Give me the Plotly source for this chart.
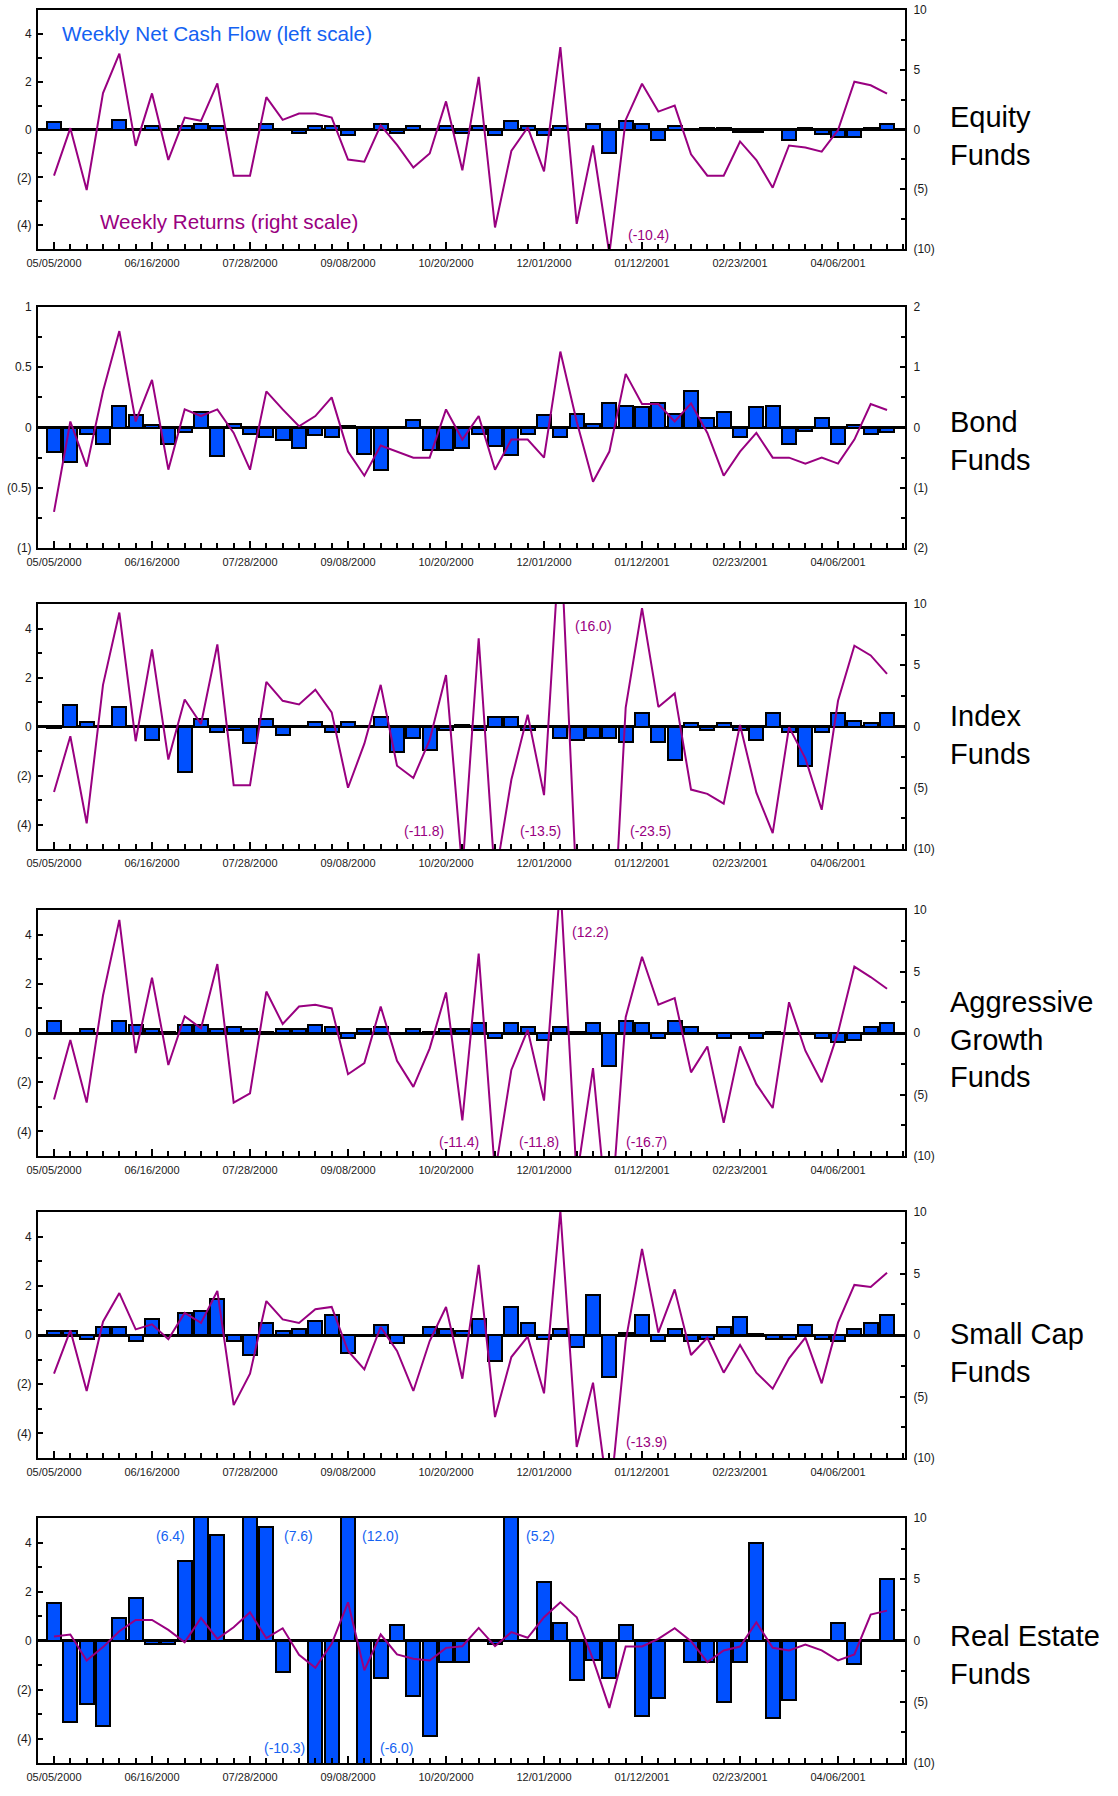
import plotly.graph_objects as go
import pandas as pd

# ---------------- data ----------------
weeks = pd.date_range("2000-05-05", periods=52, freq="7D")

equity_flow = [0.30, 0.0, 0.0, 0.02, 0.40, 0.03, 0.14, 0.02, 0.14, 0.24, 0.14, 0.0, 0.03, 0.24, 0.02, -0.15,
               0.14, 0.14, -0.25, 0.02, 0.24, -0.15, 0.14, 0.02, 0.14, -0.15, 0.14, -0.25, 0.34, 0.14, -0.25, 0.14,
               0.0, 0.24, -1.0, 0.34, 0.24, -0.42, 0.14, 0.0, 0.05, 0.05, -0.1, -0.1, 0.0, -0.42, 0.05, -0.2,
               -0.33, -0.33, 0.05, 0.24]
equity_ret = [-3.86, 0.11, -5.06, 3.05, 6.35, -1.37, 3.02, -2.55, 1.0, 0.73, 3.86, -3.86, -3.86, 2.71, 0.81, 1.34,
              1.34, 1.0, -2.52, -2.69, 0.34, -1.29, -3.19, -2.01, 2.35, -3.41, 4.4, -8.2, -1.8, 0.17, -3.5, 6.9,
              -7.9, -1.34, -10.4, 0.8, 3.83, 1.5, 2.0, -2.07, -3.86, -3.86, -1.0, -2.55, -4.87, -1.34, -1.5, -1.85,
              -0.05, 4.0, 3.7, 3.0]

bond_flow = [-0.20, -0.29, -0.05, -0.14, 0.18, 0.10, 0.02, -0.14, -0.04, 0.13, -0.24, 0.03, -0.05, -0.08, -0.10, -0.17,
             -0.06, -0.08, 0.01, -0.22, -0.35, 0.0, 0.06, -0.19, -0.19, -0.17, -0.05, -0.15, -0.23, -0.05, 0.10, -0.08,
             0.11, 0.03, 0.20, 0.18, 0.17, 0.20, 0.11, 0.30, 0.08, 0.13, -0.08, 0.17, 0.18, -0.14, -0.03, 0.08,
             -0.14, 0.02, -0.05, -0.04]
bond_ret = [-1.40, 0.10, -0.65, 0.60, 1.60, 0.10, 0.79, -0.70, 0.30, 0.19, 0.30, -0.09, -0.70, 0.60, 0.30, 0.02,
            0.19, 0.50, -0.40, -0.80, -0.30, -0.40, -0.50, -0.50, 0.30, -0.20, 0.19, -0.70, -0.20, -0.20, -0.50, 1.26,
            0.10, -0.90, -0.40, 0.89, 0.39, 0.39, 0.10, 0.40, -0.09, -0.80, -0.40, -0.09, -0.50, -0.50, -0.60, -0.50,
            -0.60, -0.20, 0.39, 0.29]

index_flow = [-0.05, 0.87, 0.17, 0.0, 0.80, 0.0, -0.56, 0.0, -1.87, 0.32, -0.24, -0.16, -0.66, 0.32, -0.33, 0.0,
              0.17, -0.24, 0.17, 0.0, 0.40, -1.05, -0.47, -0.97, -0.16, 0.08, -0.16, 0.40, 0.40, -0.16, -0.03, -0.47,
              -0.56, -0.47, -0.47, -0.64, 0.56, -0.64, -1.37, 0.15, -0.16, 0.15, -0.16, -0.56, 0.56, -0.24, -1.60, -0.24,
              0.56, 0.24, 0.15, 0.56]
index_ret = [-5.34, -0.8, -7.9, 3.4, 9.3, -1.2, 6.3, -2.7, 2.2, 0.2, 6.7, -4.8, -4.8, 3.65, 2.1, 1.8,
             3.0, 1.15, -5.0, -1.4, 3.4, -3.2, -4.2, -1.1, 4.2, -11.8, 7.2, -12.5, -4.35, 0.97, -5.6, 16.0,
             -13.5, -12.0, -23.5, 1.55, 9.66, 1.6, 2.7, -5.15, -5.5, -6.3, 0.13, -5.4, -8.7, -0.05, -2.6, -6.8,
             2.1, 6.6, 5.8, 4.3]

agg_flow = [0.50, 0.0, 0.16, 0.0, 0.50, 0.34, 0.16, 0.05, 0.34, 0.34, 0.16, 0.26, 0.16, 0.05, 0.16, 0.16,
            0.34, 0.26, -0.22, 0.16, 0.26, 0.0, 0.16, 0.05, 0.16, 0.16, 0.42, -0.20, 0.40, 0.26, -0.29, 0.26,
            0.05, 0.40, -1.36, 0.50, 0.40, -0.20, 0.50, 0.26, 0.0, -0.20, 0.0, -0.20, 0.05, 0.0, 0.0, -0.20,
            -0.38, -0.29, 0.26, 0.40]
agg_ret = [-5.4, -0.57, -5.66, 3.05, 9.2, -1.63, 4.5, -2.6, 1.36, 0.38, 5.6, -5.66, -4.9, 3.37, 0.73, 2.15,
           2.3, 2.0, -3.35, -2.45, 2.15, -2.26, -4.38, -1.25, 3.3, -7.1, 6.45, -11.4, -3.0, 0.25, -5.5, 12.2,
           -11.8, -2.86, -16.7, 1.28, 6.2, 2.3, 2.83, -3.2, -1.09, -7.3, -1.09, -4.16, -6.1, 2.5, -1.44, -4.0,
           0.05, 5.4, 4.55, 3.6]

small_flow = [0.16, 0.16, -0.16, 0.33, 0.33, -0.24, 0.64, 0.0, 0.90, 0.98, 1.45, -0.24, -0.81, 0.49, 0.16, 0.24,
              0.57, 0.81, -0.73, 0.0, 0.41, -0.33, 0.0, 0.33, 0.24, 0.16, 0.64, -1.06, 1.14, 0.49, -0.16, 0.24,
              -0.49, 1.63, -1.70, 0.08, 0.81, -0.24, 0.24, -0.24, -0.16, 0.33, 0.73, 0.03, -0.16, -0.16, 0.41, -0.16,
              -0.24, 0.24, 0.49, 0.81]
small_ret = [-3.14, 0.38, -4.55, 1.08, 3.41, 0.46, 0.87, -0.35, 1.79, 0.98, 3.58, -5.7, -3.14, 2.76, 1.27, 0.98,
             2.09, 2.28, -1.3, -2.79, 0.65, -1.3, -4.55, -0.49, 2.28, -3.55, 5.7, -6.67, -1.79, -0.14, -4.74, 10.1,
             -9.1, -3.88, -13.9, -0.49, 7.0, 0.19, 3.71, -1.63, -0.22, -3.06, -0.81, -3.06, -4.36, -1.9, -0.22, -3.93,
             1.0, 4.07, 3.9, 5.07]

re_flow = [1.55, -3.32, -2.58, -3.48, 0.91, 1.72, -0.16, -0.16, 3.25, 6.4, 4.31, 0.0, 7.6, 4.65, -1.29, 0.0,
           -10.3, -5.5, 12.0, -6.0, -1.53, 0.65, -2.26, -3.9, -0.88, -0.88, 0.0, -0.16, 5.2, 0.0, 2.37, 0.73,
           -1.63, -0.81, -1.53, 0.65, -3.09, -2.35, 0.0, -0.88, -0.88, -2.51, -0.88, 3.99, -3.15, -2.44, 0.0, 0.0,
           0.73, -0.95, 0.0, 2.52]
re_ret = [0.33, 0.49, -1.63, -0.54, 0.76, 1.68, 1.68, 0.87, -0.14, 1.84, 0.14, 1.08, 2.3, 0.19, 1.0, -1.17,
          -2.22, -0.27, 3.12, -2.44, 0.49, -1.14, -1.49, -1.63, -0.6, -0.47, 1.03, -0.46, 0.68, 0.22, 1.9, 3.12,
          1.9, -1.54, -5.5, -0.49, -0.49, 0.14, 1.0, -0.05, -1.76, -0.81, -0.49, 1.49, -0.6, -0.81, -0.33, -0.81,
          -1.63, -1.14, 2.11, 2.44]

fund_names = ["Equity<br>Funds", "Bond<br>Funds", "Index<br>Funds", "Aggressive<br>Growth<br>Funds",
              "Small Cap<br>Funds", "Real Estate<br>Funds"]

std_left_vals = [-4, -2, 0, 2, 4]
std_left_text = ["(4)", "(2)", "0", "2", "4"]
std_right_vals = [-10, -5, 0, 5, 10]
std_right_text = ["(10)", "(5)", "0", "5", "10"]
bond_left_vals = [-1, -0.5, 0, 0.5, 1]
bond_left_text = ["(1)", "(0.5)", "0", "0.5", "1"]
bond_right_vals = [-2, -1, 0, 1, 2]
bond_right_text = ["(2)", "(1)", "0", "1", "2"]

# (week position, value on axis, text, which axis)
value_labels = [
    [(36.4, -8.8, "(-10.4)", "r")],
    [],
    [(33.0, 8.2, "(16.0)", "r"), (22.65, -8.5, "(-11.8)", "r"), (29.76, -8.5, "(-13.5)", "r"),
     (36.5, -8.5, "(-23.5)", "r")],
    [(32.84, 8.2, "(12.2)", "r"), (24.8, -8.84, "(-11.4)", "r"), (29.7, -8.84, "(-11.8)", "r"),
     (36.3, -8.84, "(-16.7)", "r")],
    [(36.3, -8.7, "(-13.9)", "r")],
    [(7.12, 4.27, "(6.4)", "l"), (14.96, 4.27, "(7.6)", "l"), (19.98, 4.27, "(12.0)", "l"),
     (14.1, -4.37, "(-10.3)", "l"), (20.98, -4.37, "(-6.0)", "l"), (29.78, 4.27, "(5.2)", "l")],
]

# ---------------- style ----------------
W, H = 1118, 1796
L_PX, R_PX = 38, 905
BLUE = "#0050FF"
TEXTBLUE = "#1462F2"
PURPLE = "#990080"
FONT = "Liberation Sans, Arial, Helvetica, sans-serif"
DAY = 86400000
tops = [10, 307, 604, 910, 1212, 1518]
bottoms = [249, 548, 849, 1156, 1458, 1763]
label_mid = [136, 441, 735, 1039, 1353, 1655]

panels = [
    dict(flow=equity_flow, ret=equity_ret, bond=False),
    dict(flow=bond_flow, ret=bond_ret, bond=True),
    dict(flow=index_flow, ret=index_ret, bond=False),
    dict(flow=agg_flow, ret=agg_ret, bond=False),
    dict(flow=small_flow, ret=small_ret, bond=False),
    dict(flow=re_flow, ret=re_ret, bond=False),
]

t0 = weeks[0]
def wk(w):
    return (t0 + pd.Timedelta(days=7 * w)).isoformat()

x_range = [wk(-0.98), wk(52.1)]

fig = go.Figure()
layout = dict(width=W, height=H, margin=dict(l=L_PX, r=W - R_PX, t=0, b=0, autoexpand=False),
              paper_bgcolor="white", plot_bgcolor="white", showlegend=False,
              font=dict(family=FONT, color="#1a1a1a"), bargap=0)
annotations = []

for k, p in enumerate(panels, start=1):
    xa = "x" if k == 1 else f"x{k}"
    yl_id = 2 * k - 1
    yr_id = 2 * k
    yl = "y" if yl_id == 1 else f"y{yl_id}"
    yr = f"y{yr_id}"
    fig.add_trace(go.Bar(x=weeks, y=p["flow"], xaxis=xa, yaxis=yl, width=0.86 * 7 * DAY,
                         marker=dict(color=BLUE, line=dict(color="black", width=2))))
    fig.add_trace(go.Scatter(x=weeks, y=p["ret"], xaxis=xa, yaxis=yr, mode="lines",
                             line=dict(color=PURPLE, width=2)))
    d0 = 1 - bottoms[k - 1] / H
    d1 = 1 - tops[k - 1] / H
    if p["bond"]:
        lr, lv, lt, lminor = [-1, 1], bond_left_vals, bond_left_text, [-0.75, -0.25, 0.25, 0.75]
        rr, rv, rt, rminor = [-2, 2], bond_right_vals, bond_right_text, [-1.5, -0.5, 0.5, 1.5]
    else:
        lr, lv, lt, lminor = [-5, 5], std_left_vals, std_left_text, [-3, -1, 1, 3]
        rr, rv, rt, rminor = [-10, 10], std_right_vals, std_right_text, [-7.5, -2.5, 2.5, 7.5]

    xkey = "xaxis" if k == 1 else f"xaxis{k}"
    ylkey = "yaxis" if yl_id == 1 else f"yaxis{yl_id}"
    yrkey = f"yaxis{yr_id}"
    layout[xkey] = dict(anchor=yl, domain=[0, 1], type="date", range=x_range, automargin=False,
                        tick0=t0.isoformat(), dtick=42 * DAY, tickformat="%m/%d/%Y",
                        ticks="inside", ticklen=7, tickwidth=1.5, tickcolor="black",
                        showline=True, linewidth=2, linecolor="black", mirror=True,
                        showgrid=False, zeroline=False, ticklabelstandoff=3,
                        tickfont=dict(size=11, family=FONT, color="#1a1a1a"),
                        minor=dict(dtick=7 * DAY, tick0=t0.isoformat(), ticks="inside", ticklen=5,
                                   tickwidth=1.5, tickcolor="black", showgrid=False))
    layout[ylkey] = dict(anchor=xa, domain=[d0, d1], range=lr, tickmode="array", automargin=False,
                         tickvals=lv, ticktext=lt, ticks="inside", ticklen=5, tickwidth=1.5,
                         tickcolor="black", showline=True, linewidth=2, linecolor="black",
                         showgrid=False, zeroline=True, zerolinecolor="black", zerolinewidth=2.5,
                         ticklabelstandoff=2, tickfont=dict(size=12, family=FONT, color="#1a1a1a"),
                         minor=dict(tickvals=lminor, ticks="inside", ticklen=4, tickwidth=1.5,
                                    tickcolor="black", showgrid=False))
    layout[yrkey] = dict(anchor=xa, overlaying=yl, side="right", range=rr, tickmode="array",
                         automargin=False,
                         tickvals=rv, ticktext=rt, ticks="inside", ticklen=5, tickwidth=1.5,
                         tickcolor="black", showline=True, linewidth=2, linecolor="black",
                         showgrid=False, zeroline=False, ticklabelstandoff=4,
                         tickfont=dict(size=12, family=FONT, color="#1a1a1a"),
                         minor=dict(tickvals=rminor, ticks="inside", ticklen=4, tickwidth=1.5,
                                    tickcolor="black", showgrid=False))

    for (w, v, txt, side) in value_labels[k - 1]:
        annotations.append(dict(x=wk(w), y=v, xref=xa, yref=(yr if side == "r" else yl),
                                text=txt, showarrow=False,
                                font=dict(size=14, family=FONT, color=(PURPLE if side == "r" else TEXTBLUE))))

    annotations.append(dict(x=(948 - L_PX) / (R_PX - L_PX), y=1 - label_mid[k - 1] / H, xref="paper",
                            yref="paper", xanchor="left", yanchor="middle", align="left",
                            text=fund_names[k - 1], showarrow=False,
                            font=dict(size=29, family=FONT, color="black")))

annotations.append(dict(x=(60 - L_PX) / (R_PX - L_PX), y=1 - 33 / H, xref="paper", yref="paper",
                        xanchor="left", yanchor="middle", text="Weekly Net Cash Flow (left scale)",
                        showarrow=False, font=dict(size=20.7, family=FONT, color=TEXTBLUE)))
annotations.append(dict(x=(98 - L_PX) / (R_PX - L_PX), y=1 - 221 / H, xref="paper", yref="paper",
                        xanchor="left", yanchor="middle", text="Weekly Returns (right scale)",
                        showarrow=False, font=dict(size=20.6, family=FONT, color=PURPLE)))

layout["annotations"] = annotations
fig.update_layout(**layout)
fig.write_html("out.html")
